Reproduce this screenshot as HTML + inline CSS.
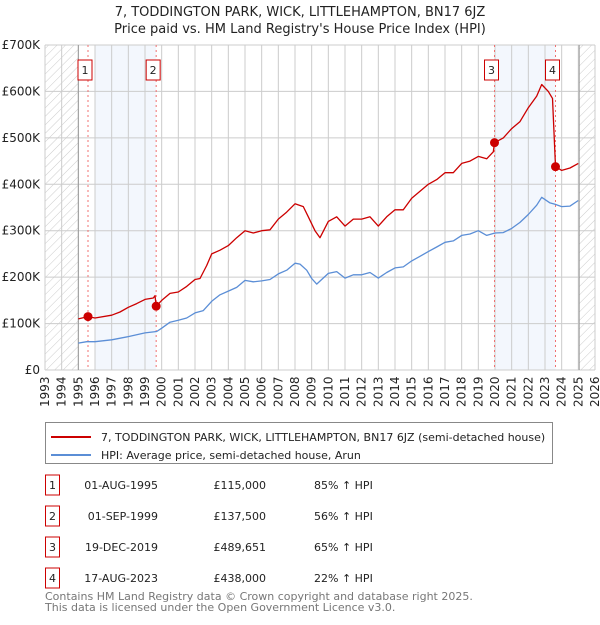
<!DOCTYPE html>
<html><head><meta charset="utf-8"><style>
body{margin:0;background:#fff;font-family:"Liberation Sans","DejaVu Sans",sans-serif;}
svg text{font-family:"DejaVu Sans","Liberation Sans",sans-serif;}
</style></head><body>
<svg id="c" width="600" height="620" xmlns="http://www.w3.org/2000/svg">
<defs><pattern id="hatch" width="6" height="6" patternUnits="userSpaceOnUse" patternTransform="rotate(45)"><line x1="0" y1="0" x2="0" y2="6" stroke="#ccc" stroke-width="1"/></pattern></defs>
<text x="300" y="16" text-anchor="middle" font-size="13" fill="#222">7, TODDINGTON PARK, WICK, LITTLEHAMPTON, BN17 6JZ</text>
<text x="300" y="33" text-anchor="middle" font-size="13" fill="#222">Price paid vs. HM Land Registry's House Price Index (HPI)</text>
<g id="plot"></g>
<g>
<rect x="45.5" y="422.5" width="507" height="41" fill="#fff" stroke="#888"/>
<line x1="51" y1="437" x2="91" y2="437" stroke="#cc0000" stroke-width="2"/>
<text x="101" y="441" font-size="11" fill="#222">7, TODDINGTON PARK, WICK, LITTLEHAMPTON, BN17 6JZ (semi-detached house)</text>
<line x1="51" y1="455" x2="91" y2="455" stroke="#5b8ed6" stroke-width="2"/>
<text x="101" y="459" font-size="11" fill="#222">HPI: Average price, semi-detached house, Arun</text>
</g>
<g id="table"></g>
<text x="45" y="600" font-size="11" fill="#777">Contains HM Land Registry data © Crown copyright and database right 2025.</text>
<text x="45" y="611" font-size="11" fill="#777">This data is licensed under the Open Government Licence v3.0.</text>
</svg>
<script>
const hpiYears=[1995,1995.5,1996,1997,1998,1999,1999.7,2000,2000.5,2001,2001.5,2002,2002.5,2003,2003.5,2004,2004.5,2005,2005.5,2006,2006.5,2007,2007.5,2008,2008.3,2008.7,2009,2009.3,2010,2010.5,2011,2011.5,2012,2012.5,2013,2013.5,2014,2014.5,2015,2015.5,2016,2016.5,2017,2017.5,2018,2018.5,2019,2019.5,2020,2020.5,2021,2021.5,2022,2022.5,2022.8,2023.3,2023.6,2024,2024.5,2025];
const hpiValues=[58,61,61,65,72,80,83,90,103,107,112,123,128,148,162,170,178,193,190,192,195,207,215,230,228,215,197,185,208,212,198,205,205,210,198,210,220,222,235,245,255,265,275,278,290,293,300,290,295,296,305,318,335,355,372,360,357,352,353,365];
const propYears=[1995,1995.58,1996,1997,1997.5,1998,1998.5,1999,1999.5,1999.6,1999.67,2000,2000.5,2001,2001.5,2002,2002.3,2002.7,2003,2003.5,2004,2004.5,2005,2005.5,2006,2006.5,2007,2007.5,2008,2008.5,2008.8,2009.2,2009.5,2010,2010.5,2011,2011.5,2012,2012.5,2013,2013.5,2014,2014.5,2015,2015.5,2016,2016.5,2017,2017.5,2018,2018.5,2019,2019.5,2019.9,2019.97,2020.5,2021,2021.5,2022,2022.5,2022.8,2023.2,2023.45,2023.63,2024,2024.5,2025];
const propValues=[110,115,112,118,125,135,143,152,155,160,137.5,150,165,168,180,195,197,225,250,258,268,285,300,295,300,302,325,340,358,352,330,300,285,320,330,310,325,325,330,310,330,345,345,370,385,400,410,425,425,445,450,460,455,470,489.6,500,520,535,565,590,615,600,585,438,430,435,445];
const saleLabels=["1","2","3","4"];
const saleYears=[1995.58,1999.67,2019.97,2023.63];
const saleValues=[115,137.5,489.651,438];
const saleDates=["01-AUG-1995","01-SEP-1999","19-DEC-2019","17-AUG-2023"];
const salePrices=["£115,000","£137,500","£489,651","£438,000"];
const saleHpi=["85% ↑ HPI","56% ↑ HPI","65% ↑ HPI","22% ↑ HPI"];
const yTicks=[0,100,200,300,400,500,600,700];
const yTickLabels=["£0","£100K","£200K","£300K","£400K","£500K","£600K","£700K"];
const xStart=1993,xEnd=2026;

const NS="http://www.w3.org/2000/svg";
const L=45,R=595,T=45,B=370;
const X=y=>L+(y-xStart)/(xEnd-xStart)*(R-L);
const Y=v=>B-v/700*(B-T);
const plot=document.getElementById('plot');
function mk(tag,attrs,parent){const e=document.createElementNS(NS,tag);for(const k in attrs)e.setAttribute(k,attrs[k]);(parent||plot).appendChild(e);return e;}
let h1=mk('rect',{x:X(1993),y:T,width:X(1995)-X(1993),height:B-T,fill:'url(#hatch)'});


let h2=mk('rect',{x:X(2025.05),y:T,width:R-X(2025.05),height:B-T,fill:'url(#hatch)'});


let s1=mk('rect',{x:X(1996),y:T,width:X(saleYears[1])-X(1996),height:B-T,fill:'#eef3fc',opacity:0.7});


let s2=mk('rect',{x:X(2020),y:T,width:X(saleYears[3])-X(2020),height:B-T,fill:'#eef3fc',opacity:0.7});


for(let yr=xStart;yr<=xEnd;yr++){
 mk('line',{x1:X(yr),x2:X(yr),y1:T,y2:B,stroke:'#ccc','stroke-width':1});
 let t=mk('text',{x:0,y:0,'font-size':12,fill:'#222',transform:`translate(${X(yr)+4},${B+37}) rotate(-90)`});
 t.textContent=yr;
 
 
}
yTicks.forEach((v,i)=>{
 mk('line',{x1:L,x2:R,y1:Y(v),y2:Y(v),stroke:'#ccc','stroke-width':1});
 let t=mk('text',{x:L-5,y:Y(v)+4,'font-size':12,fill:'#222','text-anchor':'end'});
 t.textContent=yTickLabels[i];
 
 
});
mk('line',{x1:X(1995),x2:X(1995),y1:T,y2:B,stroke:'#999','stroke-width':1});
mk('line',{x1:X(2025.05),x2:X(2025.05),y1:T,y2:B,stroke:'#999','stroke-width':1});
saleYears.forEach((yr,i)=>{
 let l=mk('line',{x1:X(yr),x2:X(yr),y1:T,y2:B,stroke:'#f07070','stroke-width':1,'stroke-dasharray':'2,3'});
 
 
});
function path(xs,vs,color,name){
 let d=xs.map((x,i)=>(i?'L':'M')+X(x).toFixed(1)+','+Y(vs[i]).toFixed(1)).join('');
 let p=mk('path',{d:d,fill:'none',stroke:color,'stroke-width':1.3,'stroke-linejoin':'round'});
 
 
}
path(hpiYears,hpiValues,'#5b8ed6','hpi-line');
path(propYears,propValues,'#cc0000','property-price-line');
saleYears.forEach((yr,i)=>{
 let c=mk('circle',{cx:X(yr),cy:Y(saleValues[i]),r:4.5,fill:'#cc0000'});
 
 
 let g=mk('g',{});
 
 
 let cx=X(yr)-3;
 mk('rect',{x:cx-7,y:60,width:14,height:20,fill:'#fff',stroke:'#cc0000','stroke-width':1},g);
 let t=mk('text',{x:cx,y:74,'font-size':11,'text-anchor':'middle',fill:'#222'},g);
 t.textContent=saleLabels[i];
});
const tb=document.getElementById('table');
saleLabels.forEach((lab,i)=>{
 const cy=485+i*31;
 let g=mk('g',{},tb);
 
 
 mk('rect',{x:45.5,y:cy-10,width:14,height:20,fill:'#fff',stroke:'#cc0000'},g);
 let t=mk('text',{x:52.5,y:cy+4,'font-size':11,'text-anchor':'middle',fill:'#222'},g);t.textContent=lab;
 let d=mk('text',{x:158,y:cy+4,'font-size':11,'text-anchor':'end',fill:'#222'},g);d.textContent=saleDates[i];
 let p=mk('text',{x:266,y:cy+4,'font-size':11,'text-anchor':'end',fill:'#222'},g);p.textContent=salePrices[i];
 let hh=mk('text',{x:314,y:cy+4,'font-size':11,fill:'#222'},g);hh.textContent=saleHpi[i];
});
</script>
</body></html>
